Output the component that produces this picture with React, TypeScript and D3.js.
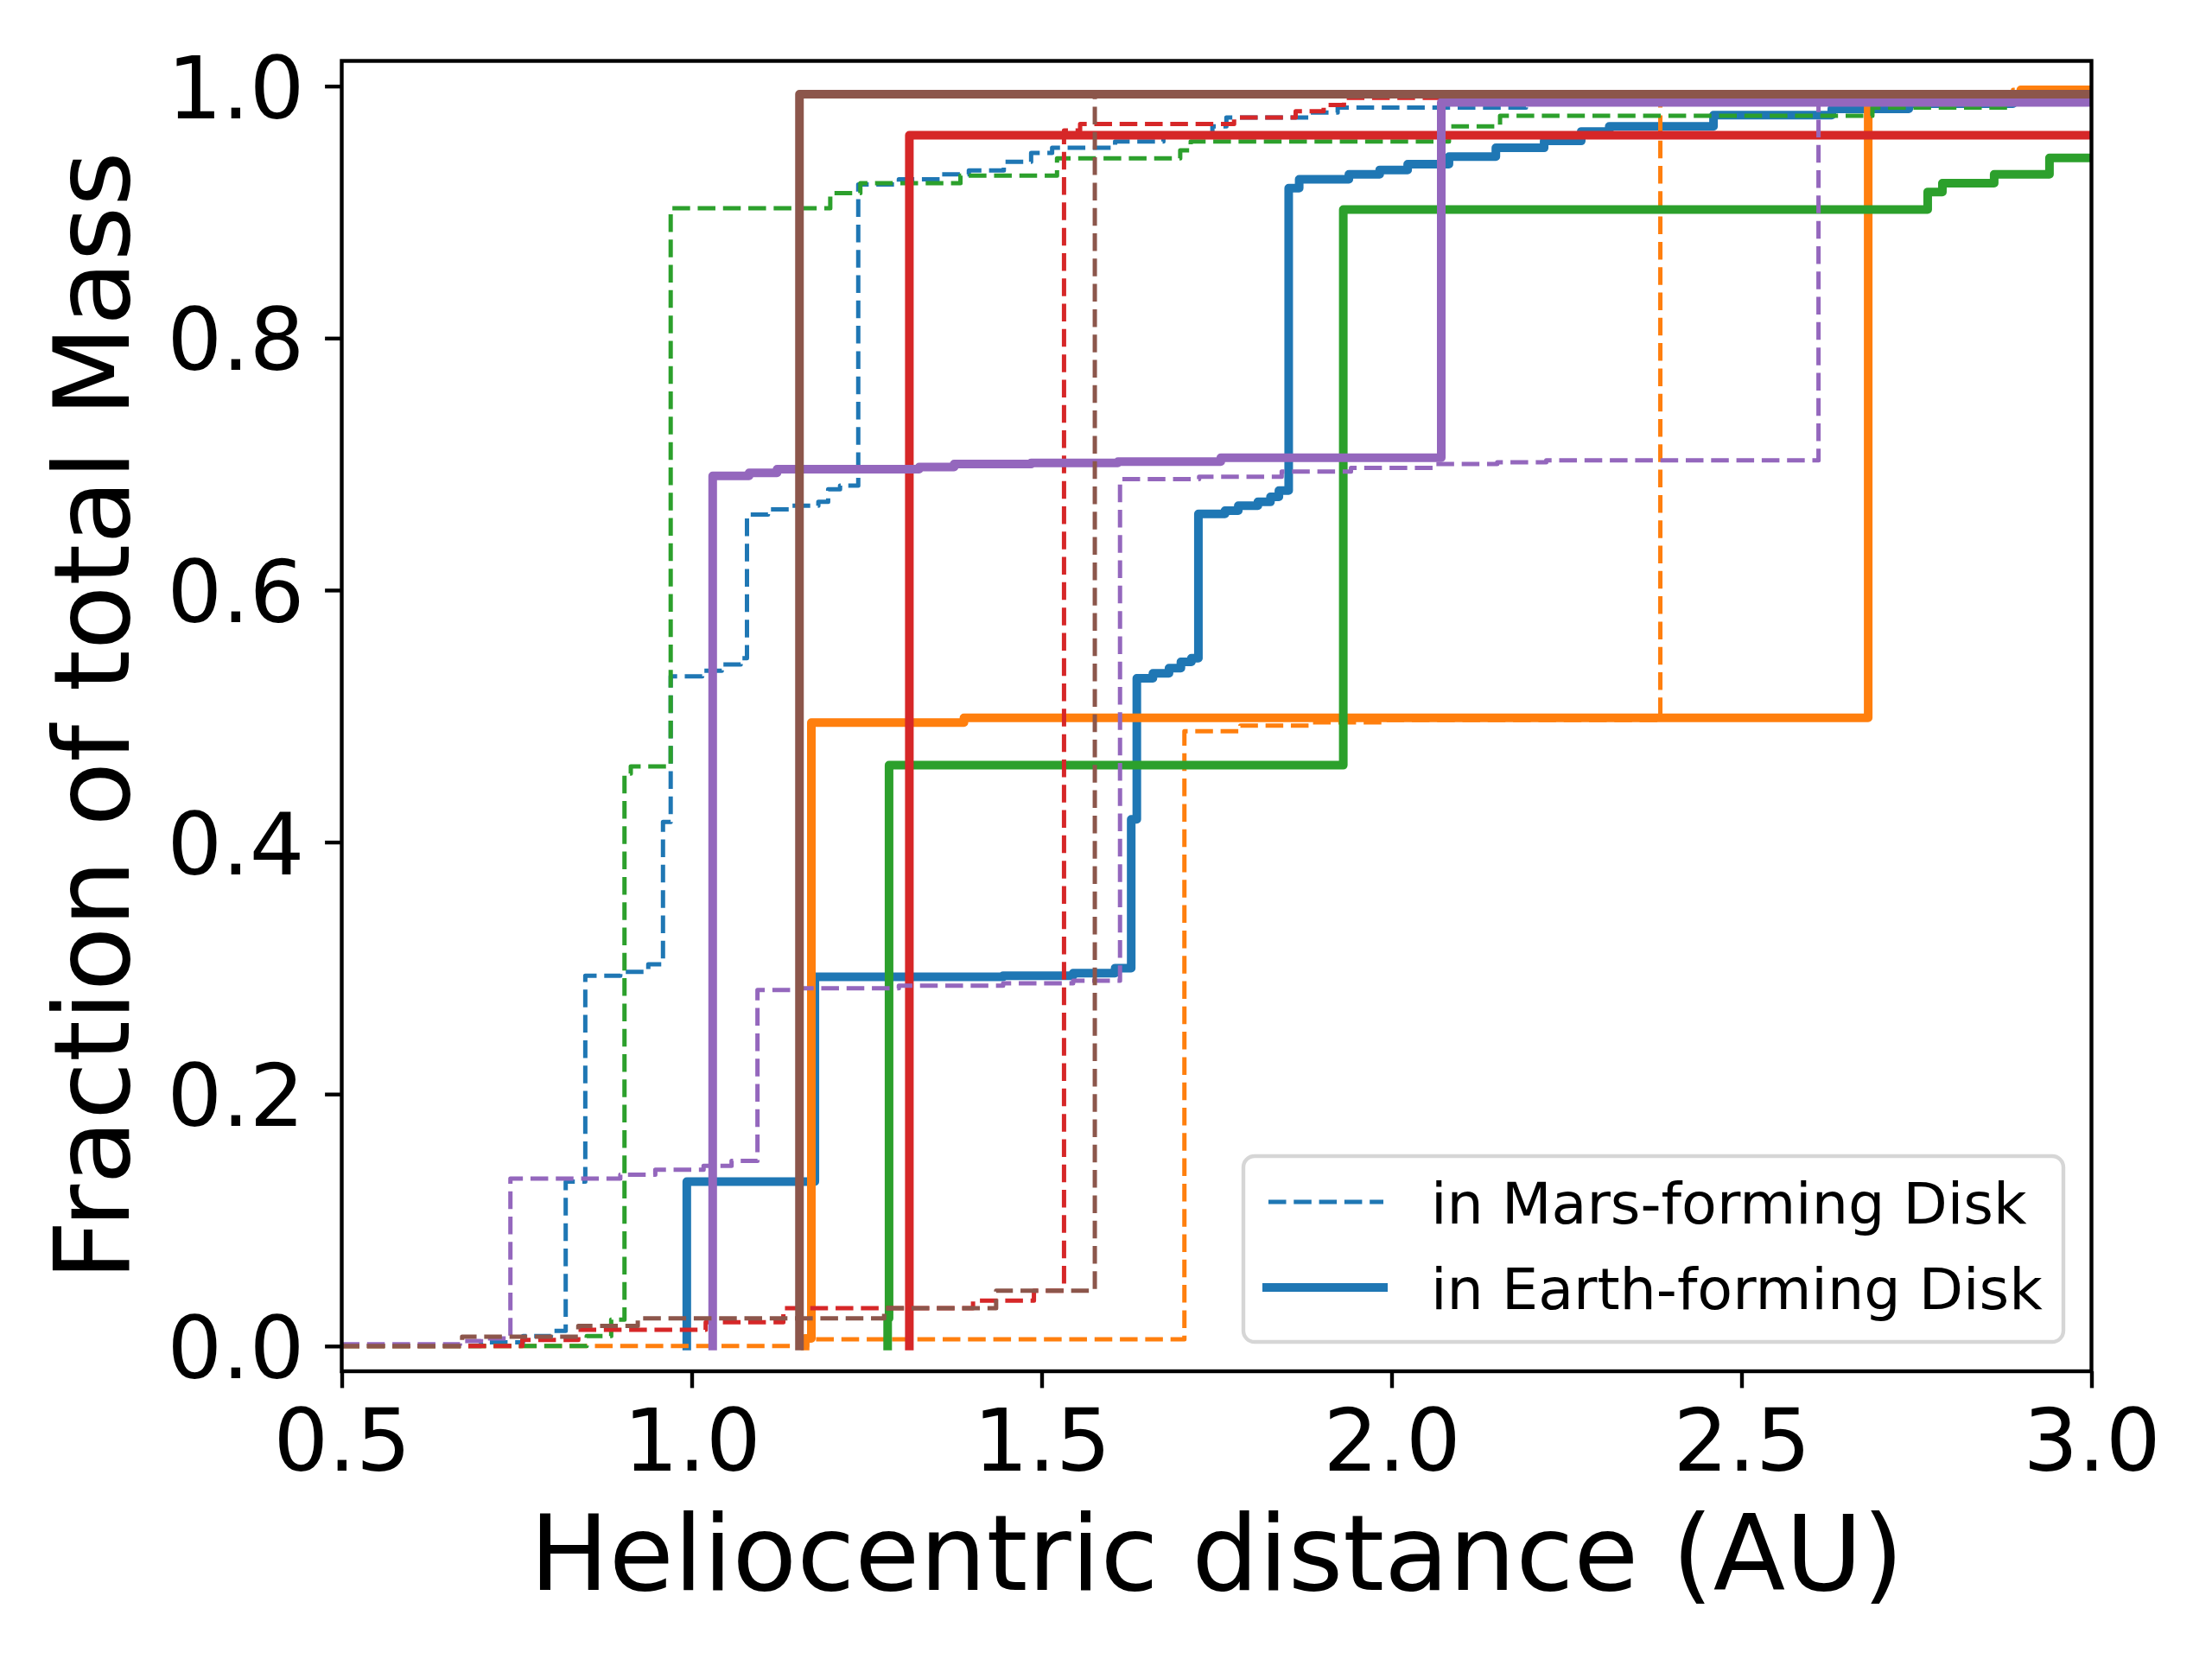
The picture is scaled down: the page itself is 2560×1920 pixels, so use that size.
import { useEffect, useRef } from 'react';
import * as d3 from 'd3';

const colors = ["#1f77b4", "#ff7f0e", "#2ca02c", "#d62728", "#9467bd", "#8c564b"];

const xTicks = [0.5, 1.0, 1.5, 2.0, 2.5, 3.0];
const yTicks = [0.0, 0.2, 0.4, 0.6, 0.8, 1.0];

const legendLabels = ["in Mars-forming Disk", "in Earth-forming Disk"];

// cumulative mass fraction: x = distance (AU) where a step happens, y = value after the step
const marsBlueX = [0.5, 0.699, 0.759, 0.799, 0.820, 0.848, 0.898, 0.938, 0.959, 0.970, 1.015, 1.043, 1.070, 1.079, 1.109, 1.142, 1.181, 1.195, 1.212, 1.238, 1.296, 1.356, 1.396, 1.446, 1.485, 1.515, 1.605, 1.674, 1.744, 1.764, 1.883, 1.923, 2.192, 2.491, 2.789];
const marsBlueY = [0, 0.003, 0.008, 0.012, 0.1305, 0.294, 0.297, 0.303, 0.416, 0.5315, 0.536, 0.541, 0.546, 0.660, 0.664, 0.667, 0.670, 0.680, 0.683, 0.922, 0.926, 0.930, 0.933, 0.940, 0.947, 0.951, 0.956, 0.960, 0.968, 0.975, 0.979, 0.983, 0.9866, 0.989, 0.991];
const earthBlueX = [0.993, 0.993, 1.176, 1.445, 1.545, 1.605, 1.628, 1.636, 1.659, 1.682, 1.699, 1.714, 1.724, 1.762, 1.781, 1.809, 1.827, 1.839, 1.853, 1.868, 1.939, 1.983, 2.023, 2.082, 2.149, 2.218, 2.271, 2.311, 2.460, 2.629, 2.739, 2.888];
const earthBlueY = [0, 0.1305, 0.293, 0.294, 0.296, 0.300, 0.418, 0.530, 0.534, 0.538, 0.543, 0.546, 0.6605, 0.663, 0.667, 0.670, 0.674, 0.679, 0.919, 0.926, 0.930, 0.9335, 0.938, 0.944, 0.951, 0.9565, 0.964, 0.968, 0.977, 0.982, 0.986, 0.989];

const marsOrangeX = [0.5, 1.165, 1.704, 1.784, 1.883, 1.993, 2.384, 2.888];
const marsOrangeY = [0, 0.0053, 0.488, 0.4925, 0.495, 0.497, 0.994, 0.997];
const earthOrangeX = [1.162, 1.162, 1.171, 1.389, 2.681, 2.899];
const earthOrangeY = [0, 0.006, 0.4948, 0.4986, 0.993, 0.997];

const marsGreenX = [0.5, 0.850, 0.885, 0.904, 0.913, 0.970, 1.198, 1.241, 1.384, 1.522, 1.698, 1.713, 2.082, 2.155, 2.687, 2.886];
const marsGreenY = [0, 0.008, 0.021, 0.4544, 0.46, 0.903, 0.915, 0.923, 0.929, 0.9426, 0.949, 0.956, 0.968, 0.9765, 0.983, 0.988];
const earthGreenX = [1.280, 1.280, 1.282, 1.931, 2.766, 2.787, 2.861, 2.940];
const earthGreenY = [0, 0.022, 0.461, 0.902, 0.916, 0.923, 0.930, 0.943];

const marsRedX = [0.5, 0.758, 0.838, 1.020, 1.131, 1.402, 1.489, 1.532, 1.555, 1.775, 1.863, 1.903, 1.932, 2.159];
const marsRedY = [0, 0.0048, 0.013, 0.019, 0.030, 0.036, 0.044, 0.9648, 0.970, 0.975, 0.980, 0.985, 0.9907, 0.995];
const earthRedX = [1.311, 1.311];
const earthRedY = [0, 0.961];

const marsPurpleX = [0.5, 0.669, 0.699, 0.741, 0.898, 0.948, 1.017, 1.057, 1.094, 1.157, 1.296, 1.445, 1.545, 1.612, 1.725, 1.843, 1.942, 2.062, 2.151, 2.221, 2.610, 2.788];
const marsPurpleY = [0.0015, 0.004, 0.006, 0.133, 0.136, 0.140, 0.143, 0.147, 0.2826, 0.284, 0.286, 0.288, 0.290, 0.688, 0.690, 0.694, 0.697, 0.700, 0.7015, 0.703, 0.986, 0.988];
const earthPurpleX = [1.030, 1.030, 1.082, 1.122, 1.325, 1.375, 1.485, 1.609, 1.756, 2.071];
const earthPurpleY = [0, 0.6907, 0.693, 0.696, 0.6977, 0.700, 0.701, 0.702, 0.705, 0.987];

const marsBrownX = [0.5, 0.672, 0.838, 0.923, 1.275, 1.435, 1.576];
const marsBrownY = [0, 0.0075, 0.016, 0.022, 0.030, 0.044, 0.993];
const earthBrownX = [1.154, 1.154];
const earthBrownY = [0, 0.9936];

const marsX = [marsBlueX, marsOrangeX, marsGreenX, marsRedX, marsPurpleX, marsBrownX];
const marsY = [marsBlueY, marsOrangeY, marsGreenY, marsRedY, marsPurpleY, marsBrownY];
const earthX = [earthBlueX, earthOrangeX, earthGreenX, earthRedX, earthPurpleX, earthBrownX];
const earthY = [earthBlueY, earthOrangeY, earthGreenY, earthRedY, earthPurpleY, earthBrownY];

export default function App() {
  const ref = useRef<SVGSVGElement | null>(null);

  useEffect(() => {
    if (!ref.current) return;
    const svg = d3.select(ref.current);
    svg.selectAll("*").remove();

    const width = 2560;
    const height = 1920;
    const margin = { top: 70.5, right: 139.5, bottom: 333, left: 395.5 };
    const font = "DejaVu Sans";
    const lw = 4.4;

    const x = d3.scaleLinear().domain([0.5, 3.0]).range([margin.left, width - margin.right]);
    const y = d3.scaleLinear().domain([-0.02, 1.02]).range([height - margin.bottom, margin.top]);

    svg.append("rect").attr("width", width).attr("height", height).attr("fill", "white");

    svg.append("defs").append("clipPath").attr("id", "plot-clip")
      .append("rect")
      .attr("x", margin.left)
      .attr("y", margin.top)
      .attr("width", width - margin.left - margin.right)
      .attr("height", height - margin.top - margin.bottom);

    const line = d3.line<[number, number]>()
      .x(d => x(d[0]))
      .y(d => y(d[1]))
      .curve(d3.curveStepAfter);

    const toPoints = (xs: number[], ys: number[]) => {
      const pts: [number, number][] = xs.map((v, i) => [v, ys[i]]);
      pts.push([3.1, ys[ys.length - 1]]);
      return pts;
    };

    const plot = svg.append("g").attr("clip-path", "url(#plot-clip)");

    colors.forEach((c, i) => {
      plot.append("path")
        .datum(toPoints(marsX[i], marsY[i]))
        .attr("fill", "none")
        .attr("stroke", c)
        .attr("stroke-width", 5)
        .attr("stroke-dasharray", "20.5,8.8")
        .attr("stroke-linejoin", "round")
        .attr("stroke-linecap", "butt")
        .attr("d", line);

      plot.append("path")
        .datum(toPoints(earthX[i], earthY[i]))
        .attr("fill", "none")
        .attr("stroke", c)
        .attr("stroke-width", 10)
        .attr("stroke-linejoin", "round")
        .attr("stroke-linecap", "square")
        .attr("d", line);
    });

    // axes box
    svg.append("rect")
      .attr("x", margin.left)
      .attr("y", margin.top)
      .attr("width", width - margin.left - margin.right)
      .attr("height", height - margin.top - margin.bottom)
      .attr("fill", "none")
      .attr("stroke", "black")
      .attr("stroke-width", lw);

    const xAxis = svg.append("g")
      .attr("transform", `translate(0,${height - margin.bottom})`)
      .call(d3.axisBottom(x).tickValues(xTicks).tickFormat(d3.format(".1f")).tickSize(19.4).tickSizeOuter(0).tickPadding(24.6));
    xAxis.select(".domain").remove();
    xAxis.selectAll("line").attr("stroke-width", lw);
    xAxis.selectAll("text")
      .attr("font-size", 100)
      .attr("font-family", font)
      .attr("fill", "black");

    const yAxis = svg.append("g")
      .attr("transform", `translate(${margin.left},0)`)
      .call(d3.axisLeft(y).tickValues(yTicks).tickFormat(d3.format(".1f")).tickSize(19.4).tickSizeOuter(0).tickPadding(23.6));
    yAxis.select(".domain").remove();
    yAxis.selectAll("line").attr("stroke-width", lw);
    yAxis.selectAll("text")
      .attr("font-size", 100)
      .attr("font-family", font)
      .attr("dy", "0.365em")
      .attr("fill", "black");

    svg.append("text")
      .attr("x", (margin.left + width - margin.right) / 2)
      .attr("y", 1840)
      .attr("text-anchor", "middle")
      .attr("font-size", 122)
      .attr("font-family", font)
      .text("Heliocentric distance (AU)");

    svg.append("text")
      .attr("transform", `translate(149,${(margin.top + height - margin.bottom) / 2}) rotate(-90)`)
      .attr("text-anchor", "middle")
      .attr("font-size", 122)
      .attr("font-family", font)
      .text("Fraction of total Mass");

    // legend
    const legend = svg.append("g");
    legend.append("rect")
      .attr("x", 1439)
      .attr("y", 1338)
      .attr("width", 949)
      .attr("height", 215)
      .attr("rx", 13)
      .attr("fill", "white")
      .attr("fill-opacity", 0.8)
      .attr("stroke", "#d6d6d6")
      .attr("stroke-width", lw);

    const rowY = [1391, 1490];
    legendLabels.forEach((label, i) => {
      legend.append("line")
        .attr("x1", i === 0 ? 1468 : 1466)
        .attr("x2", 1601)
        .attr("y1", rowY[i])
        .attr("y2", rowY[i])
        .attr("stroke", colors[0])
        .attr("stroke-width", i === 0 ? 5 : 10)
        .attr("stroke-dasharray", i === 0 ? "20.5,8.8" : null)
        .attr("stroke-linecap", i === 0 ? "butt" : "square");

      legend.append("text")
        .attr("x", 1656)
        .attr("y", rowY[i] + 25)
        .attr("font-size", 66.7)
        .attr("font-family", font)
        .text(label);
    });
  }, []);

  return (
    <svg
      ref={ref}
      width={2560}
      height={1920}
      style={{ position: "absolute", left: 0, top: 0 }}
    />
  );
}
